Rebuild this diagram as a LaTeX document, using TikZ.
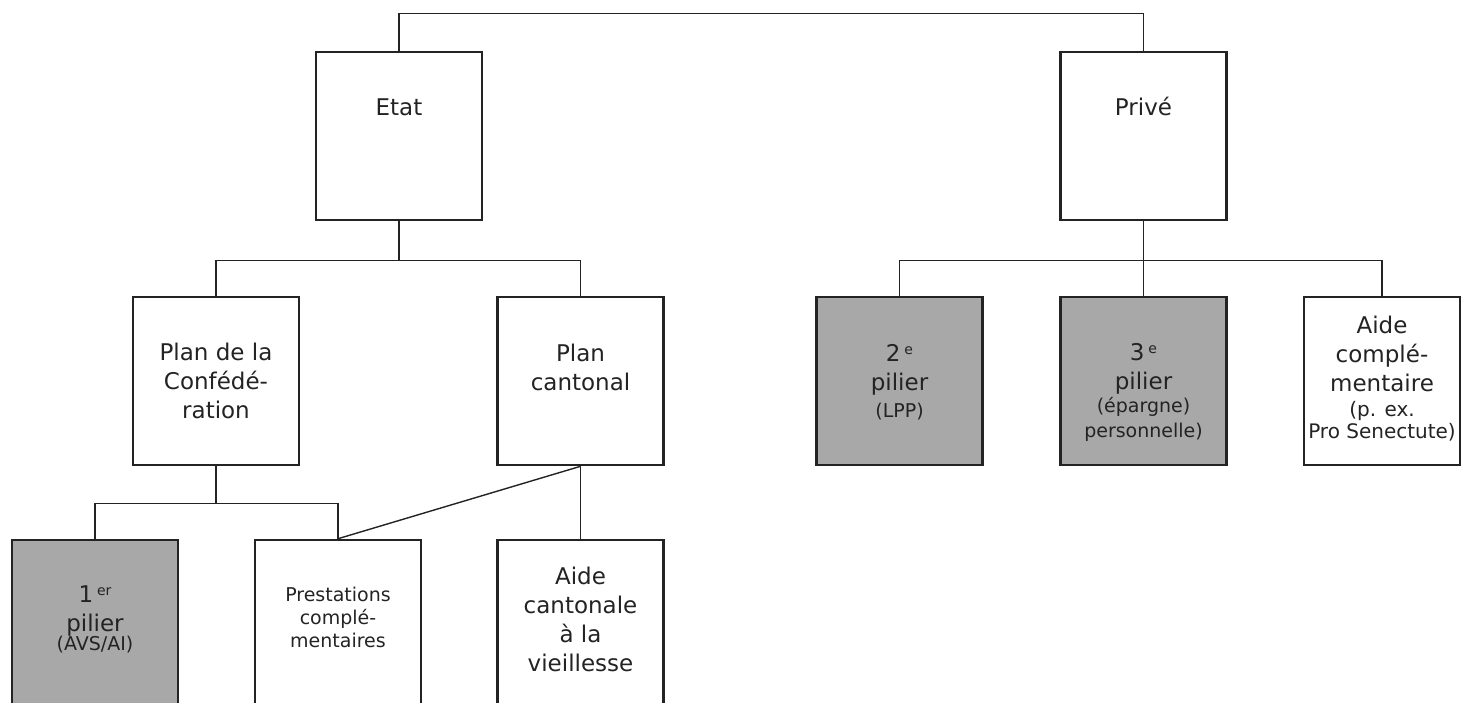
\documentclass[tikz,border=0pt]{standalone}
\usepackage{fontspec}
\setmainfont{DejaVu Sans}
\usepackage{tikz}

\definecolor{ink}{RGB}{35,35,35}
\definecolor{pillargray}{RGB}{168,168,168}
\newcommand{\ordinal}[1]{\,\raisebox{7pt}{\fontsize{14}{14}\selectfont #1}}

\begin{document}
\begin{tikzpicture}[x=1pt, y=-1pt, node distance=244pt,
  box/.style={rectangle, draw=ink, line width=2.6pt, minimum width=166pt, minimum height=168pt, inner sep=0pt},
  pillar/.style={box, fill=pillargray},
  txt/.style={align=center, anchor=base, inner sep=0pt, text=ink, font=\fontsize{23}{29}\selectfont},
  small/.style={txt, font=\fontsize{19}{25}\selectfont},
  link/.style={draw=ink, line width=1.4pt}]
  \useasboundingbox (0,0) rectangle (1462,702);
  \clip (0,0) rectangle (1462,702);

  % boxes
  \node (etat) [box] at (399,136) {};
  \node (prive) [box, right of=etat, xshift=500.5pt] {};
  \node (plancon) [box, below of=etat, xshift=-183pt, yshift=-1pt] {};
  \node (plancant) [box, right of=plancon, xshift=120.5pt] {};
  \node (pilier1) [pillar, below of=plancon, xshift=-121pt, yshift=1pt] {};
  \node (prest) [box, below of=plancon, xshift=122pt, yshift=1pt] {};
  \node (aidecant) [box, below of=plancant, yshift=1pt] {};
  \node (pilier3) [pillar, below of=prive, yshift=-1pt] {};
  \node (pilier2) [pillar, left of=pilier3] {};
  \node (aidecomp) [box, right of=pilier3, xshift=-5.5pt, minimum width=156pt] {};

  % texts (base = last line)
  \node (etat-t) [txt, yshift=-65pt] at (etat.north) {Etat};
  \node (prive-t) [txt, yshift=-65pt] at (prive.north) {Privé};
  \node (plancon-t) [txt, yshift=-123pt] at (plancon.north) {Plan de la\\Confédé-\\ration};
  \node (plancant-t) [txt, yshift=-95pt] at (plancant.north) {Plan\\cantonal};
  \node (pilier1-t) [txt, yshift=-93pt] at (pilier1.north) {1\ordinal{er}\\pilier};
  \node (pilier1-s) [small, yshift=-112pt] at (pilier1.north) {(AVS/AI)};
  \node (prest-t) [txt, yshift=-109pt, font=\fontsize{19}{23}\selectfont] at (prest.north) {Prestations\\complé-\\mentaires};
  \node (aidecant-t) [txt, yshift=-133pt] at (aidecant.north) {Aide\\cantonale\\à la\\vieillesse};
  \node (pilier2-t) [txt, yshift=-95pt] at (pilier2.north) {2\ordinal{e}\\pilier};
  \node (pilier2-s) [small, yshift=-122pt] at (pilier2.north) {(LPP)};
  \node (pilier3-t) [txt, yshift=-94pt] at (pilier3.north) {3\ordinal{e}\\pilier};
  \node (pilier3-s) [small, yshift=-142pt] at (pilier3.north) {(épargne)\\personnelle)};
  \node (aidecomp-t) [txt, yshift=-96pt] at (aidecomp.north) {Aide\\complé-\\mentaire};
  \node (aidecomp-s) [small, yshift=-143pt, font=\fontsize{20}{22}\selectfont] at (aidecomp.north) {(p. ex.\\Pro Senectute)};

  % connectors
  \draw[link] (etat.north) -- ++(0,-37) -| (prive.north);
  \draw[link] (etat.south) -- ++(0,39) coordinate (etat-bus);
  \draw[link] (plancon.north) |- (etat-bus) -| (plancant.north);
  \draw[link] (prive.south) -- ++(0,39) coordinate (prive-bus) -- (pilier3.north);
  \draw[link] (pilier2.north) |- (prive-bus) -| (aidecomp.north);
  \draw[link] (plancon.south) -- ++(0,37) coordinate (conf-bus);
  \draw[link] (pilier1.north) |- (conf-bus) -| (prest.north);
  \draw[link] (plancant.south) -- (aidecant.north);
  \draw[link] (plancant.south) -- (prest.north);
\end{tikzpicture}
\end{document}
